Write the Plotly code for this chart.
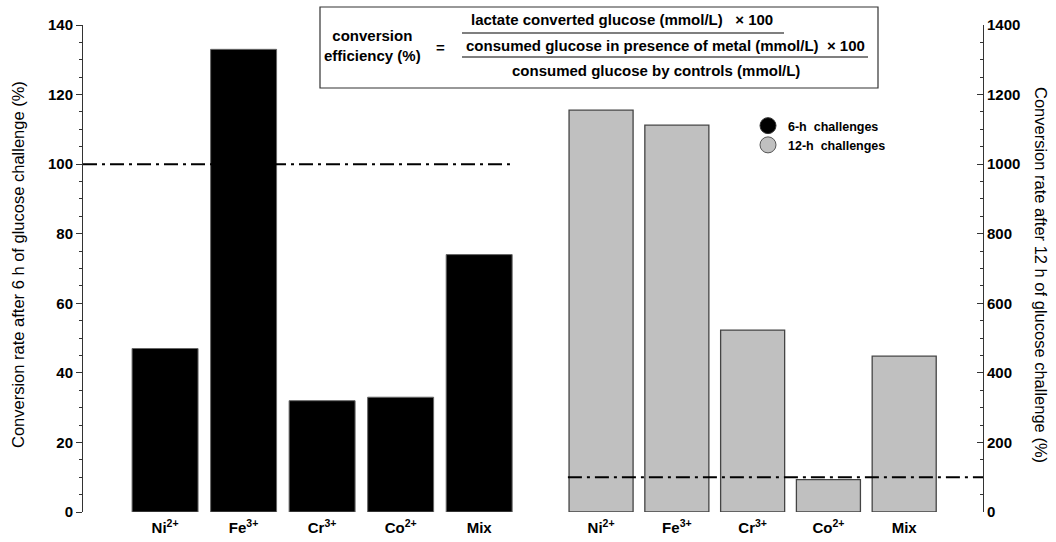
import plotly.graph_objects as go

# ---- data ----
categories = ["Ni<sup>2+</sup>", "Fe<sup>3+</sup>", "Cr<sup>3+</sup>", "Co<sup>2+</sup>", "Mix"]
rate_6h = [47, 133, 32, 33, 74]
rate_12h = [1155, 1112, 523, 93, 448]
ref_6h = 100
ref_12h = 100
left_title = "Conversion rate after 6 h of glucose challenge (%)"
right_title = "Conversion rate after 12 h of glucose challenge (%)"
legend_names = ["6-h  challenges", "12-h  challenges"]

# ---- layout helpers (pixel -> paper) ----
W, H = 1056, 542
L, R, T, B = 83, 73, 25, 30
PW, PH = W - L - R, H - T - B


def px(x):
    return (x - L) / PW


def py(y):
    return (H - B - y) / PH


FONT = "Liberation Sans, Arial, sans-serif"
idx = list(range(len(categories)))

fig = go.Figure()
fig.add_trace(go.Bar(x=idx, y=rate_6h, width=0.84, xaxis="x", yaxis="y",
                     marker=dict(color="black", line=dict(color="#666", width=1)),
                     showlegend=False))
fig.add_trace(go.Bar(x=idx, y=rate_12h, width=0.845, xaxis="x2", yaxis="y2",
                     marker=dict(color="#c0c0c0", line=dict(color="#444", width=1.3)),
                     showlegend=False))
# legend markers
fig.add_trace(go.Scatter(x=[None], y=[None], mode="markers", name=legend_names[0],
                         marker=dict(symbol="circle", size=17, color="black",
                                     line=dict(color="#333", width=1))))
fig.add_trace(go.Scatter(x=[None], y=[None], mode="markers", name=legend_names[1],
                         marker=dict(symbol="circle", size=17, color="#c0c0c0",
                                     line=dict(color="#555", width=1))))

dash = "14px,5px,3px,5px"
fig.add_shape(type="line", xref="x domain", yref="y", x0=0, x1=0.977, y0=ref_6h, y1=ref_6h,
              line=dict(color="black", width=2, dash=dash))
fig.add_shape(type="line", xref="x2 domain", yref="y2", x0=0.063, x1=1, y0=ref_12h, y1=ref_12h,
              line=dict(color="black", width=2, dash=dash))

# formula box
fig.add_shape(type="rect", xref="paper", yref="paper", x0=px(320), x1=px(878), y0=py(88), y1=py(7),
              line=dict(color="#333", width=1.2), fillcolor="white")
fig.add_shape(type="line", xref="paper", yref="paper", x0=px(462), x1=px(784), y0=py(33), y1=py(33),
              line=dict(color="black", width=1.2))
fig.add_shape(type="line", xref="paper", yref="paper", x0=px(462), x1=px(868), y0=py(57), y1=py(57),
              line=dict(color="black", width=1.2))

bf = dict(family=FONT, size=15, color="black", weight="bold")
annots = [
    dict(x=px(372), y=py(45), text="conversion<br>efficiency (%)", font=bf),
    dict(x=px(440), y=py(47), text="=", font=bf),
    dict(x=px(622), y=py(20), text="lactate converted glucose (mmol/L)   × 100", font=bf),
    dict(x=px(665), y=py(45), text="consumed glucose in presence of metal (mmol/L)  × 100", font=bf),
    dict(x=px(656), y=py(70), text="consumed glucose by controls (mmol/L)", font=bf),
    dict(x=px(18), y=py(265), text=left_title, textangle=-90,
         font=dict(family=FONT, size=16.5, color="black")),
    dict(x=px(1041), y=py(275), text=right_title, textangle=90,
         font=dict(family=FONT, size=16.5, color="black")),
]
for a in annots:
    a.update(xref="paper", yref="paper", showarrow=False, xanchor="center", yanchor="middle")
fig.update_layout(annotations=annots)

tickf = dict(family=FONT, size=15, color="black", weight="bold")
fig.update_layout(
    width=W, height=H,
    margin=dict(l=L, r=R, t=T, b=B, autoexpand=False),
    paper_bgcolor="white", plot_bgcolor="white",
    barmode="overlay",
    showlegend=True,
    legend=dict(x=px(748), y=py(111), xanchor="left", yanchor="top",
                font=dict(family=FONT, size=12.5, color="black", weight="bold"),
                bgcolor="rgba(0,0,0,0)", tracegroupgap=0, itemsizing="trace"),
    xaxis=dict(domain=[0, px(520)], range=[-1.045, 4.52], tickvals=idx, ticktext=categories,
               showline=False, showgrid=False, zeroline=False, ticks="", tickfont=tickf,
               automargin=False, ticklabelstandoff=5),
    xaxis2=dict(domain=[px(540), 1], range=[-0.806, 5.04], tickvals=idx, ticktext=categories,
                showline=False, showgrid=False, zeroline=False, ticks="", tickfont=tickf,
                automargin=False, ticklabelstandoff=5),
    yaxis=dict(anchor="x", range=[0, 140], dtick=20, showgrid=False, zeroline=False,
               showline=True, linecolor="#333", linewidth=1, ticks="outside", ticklen=6,
               tickcolor="#333", tickfont=tickf, automargin=False,
               minor=dict(dtick=5, ticks="outside", ticklen=3, tickcolor="#333")),
    yaxis2=dict(anchor="x2", side="right", range=[0, 1400], dtick=200, showgrid=False,
                zeroline=False, showline=True, linecolor="#333", linewidth=1, ticks="inside",
                ticklen=6, tickcolor="#333", tickfont=tickf, automargin=False,
                minor=dict(dtick=50, ticks="inside", ticklen=3, tickcolor="#333")),
)

fig.write_html("out.html", config={"displayModeBar": False},
               post_script="document.body.style.margin='0';document.body.style.overflow='hidden';")
